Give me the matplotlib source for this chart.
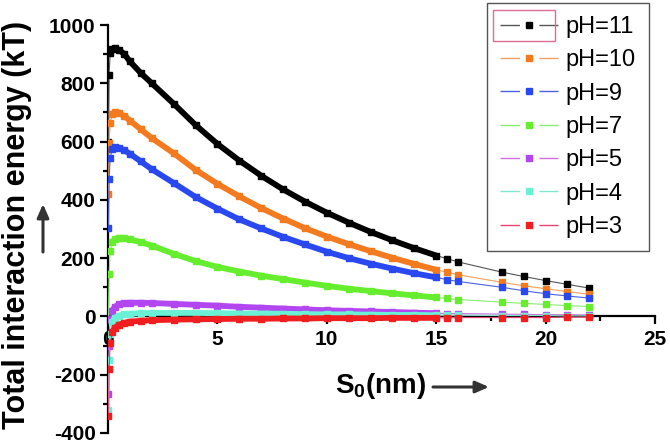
import matplotlib
matplotlib.use("Agg")
import matplotlib.pyplot as plt
from matplotlib.lines import Line2D
from matplotlib.patches import FancyArrowPatch, Rectangle
from matplotlib.ticker import MultipleLocator

plt.rcParams['font.family'] = ['Liberation Sans', 'DejaVu Sans']
plt.rcParams['mathtext.fontset'] = 'custom'
plt.rcParams['mathtext.rm'] = 'Liberation Sans'
plt.rcParams['mathtext.bf'] = 'Liberation Sans:bold'
plt.rcParams['axes.unicode_minus'] = False
plt.rcParams['lines.scale_dashes'] = False

# separation distance (nm): densely computed part, then the sparse tail
x_dense = [0.02, 0.05, 0.1, 0.2, 0.3, 0.5, 0.75, 1, 1.5, 2, 3, 4, 5, 6, 7,
           8, 9, 10, 11, 12, 13, 14, 15]
x_tail = [15.5, 16, 18, 19, 20, 21, 22]

# total interaction energy (kT)
ph11_dense = [600, 830, 905, 918, 920, 915, 900, 875, 835, 800, 730, 657, 592,
              535, 483, 436, 394, 356, 322, 290, 261, 234, 209]
ph11_tail = [198, 187, 152, 137, 123, 110, 97]

ph10_dense = [420, 595, 665, 695, 700, 697, 688, 672, 642, 612, 560, 503, 455,
              412, 372, 336, 303, 274, 248, 224, 201, 180, 160]
ph10_tail = [152, 143, 117, 105, 95, 85, 76]

ph9_dense = [305, 470, 545, 575, 580, 578, 570, 558, 532, 505, 458, 410, 370,
             333, 302, 273, 247, 222, 200, 181, 164, 148, 134]
ph9_tail = [126, 120, 100, 88, 78, 70, 63]

ph7_dense = [-10, 145, 225, 255, 265, 270, 268, 264, 255, 243, 215, 190, 170,
             154, 140, 128, 116, 105, 95, 87, 79, 72, 65]
ph7_tail = [62, 58, 49, 45, 41, 37, 34]

ph5_dense = [-265, -100, -10, 20, 32, 42, 46, 47, 47, 46, 43, 40, 37, 33, 30,
             27, 24, 21, 19, 17, 15, 13, 11]
ph5_tail = [10, 10, 8, 7, 6, 6, 5]

ph4_dense = [-320, -150, -60, -20, -5, 3, 7, 9, 11, 12, 12, 12, 11, 10, 10, 9,
             8, 7, 7, 6, 5, 5, 4]
ph4_tail = [4, 4, 3, 3, 3, 2, 2]

ph3_dense = [-340, -180, -90, -55, -40, -28, -22, -18, -15, -13, -11, -10, -9,
             -8, -8, -7, -7, -6, -6, -6, -5, -5, -5]
ph3_tail = [-5, -4, -4, -4, -4, -3, -3]

labels = ['pH=11', 'pH=10', 'pH=9', 'pH=7', 'pH=5', 'pH=4', 'pH=3']
dense_sets = [ph11_dense, ph10_dense, ph9_dense, ph7_dense, ph5_dense, ph4_dense, ph3_dense]
tail_sets = [ph11_tail, ph10_tail, ph9_tail, ph7_tail, ph5_tail, ph4_tail, ph3_tail]
marker_colors = ['#000000', '#f47a1f', '#2a48f0', '#66ee2e', '#b246f0', '#6af0d4', '#f01e1e']
line_colors = ['#555555', '#f0a060', '#4a62e0', '#88ee70', '#d070e0', '#80e8d0', '#e84470']

fig = plt.figure(figsize=(6.7, 4.45), dpi=100)
ax = fig.add_axes([0.1612, 0.027, 0.8164, 0.9168])

for yd, yt, mc, lc in zip(dense_sets, tail_sets, marker_colors, line_colors):
    ax.plot(x_dense + x_tail, yd + yt, color=lc, lw=0.8, marker='s', ms=4,
            mfc=mc, mec=mc, zorder=3)
    # the densely sampled region looks like a thick band of markers
    ax.plot(x_dense[3:], yd[3:], color=mc, lw=4.2, solid_capstyle='butt', zorder=3)

ax.set_xlim(0, 25)
ax.set_ylim(-400, 1000)
ax.spines['top'].set_visible(False)
ax.spines['right'].set_visible(False)
ax.spines['bottom'].set_position(('data', 0))
ax.spines['left'].set_linewidth(1.6)
ax.spines['bottom'].set_linewidth(1.6)
ax.xaxis.set_major_locator(MultipleLocator(5))
ax.xaxis.set_minor_locator(MultipleLocator(2.5))
ax.yaxis.set_major_locator(MultipleLocator(200))
ax.yaxis.set_minor_locator(MultipleLocator(100))
ax.tick_params(which='major', direction='out', length=6, width=1.6)
ax.tick_params(which='minor', direction='out', length=3.5, width=1.6)
ax.tick_params(axis='x', which='major', pad=4, labelsize=15)
ax.tick_params(axis='y', which='major', pad=3, labelsize=15)
for t in ax.get_xticklabels() + ax.get_yticklabels():
    t.set_fontweight('bold')

handles = [Line2D([0], [0], color=lc, lw=1, ls=(0, (14, 14)), marker='s', ms=4,
                  mfc=mc, mec=mc) for mc, lc in zip(marker_colors, line_colors)]
leg = ax.legend(handles, labels, loc='upper right', bbox_to_anchor=(649 / 670, 1 - 3 / 445),
                bbox_transform=fig.transFigure, borderaxespad=0, fontsize=17,
                fancybox=False, edgecolor='#555555', framealpha=1, numpoints=1,
                handlelength=2.45, handletextpad=0.35, labelspacing=0.48, borderpad=0.55)
leg.get_frame().set_linewidth(1.0)

# Origin-style highlight around the first legend entry
fig.patches.append(Rectangle((493 / 670, 1 - 41 / 445), 62 / 670, 31 / 445,
                             transform=fig.transFigure, fill=False,
                             edgecolor='#dc6e96', lw=1.0, zorder=10))

fig.text(17.5 / 670, 1 - 225 / 445, 'Total interaction energy (kT)', rotation=90,
         fontsize=22, fontweight='bold', ha='center', va='center')
fig.text(381 / 670, 1 - 393 / 445, r'S$_\mathbf{0}$(nm)', fontsize=20,
         fontweight='bold', ha='center', va='baseline')

fig.add_artist(FancyArrowPatch((43 / 670, 1 - 252 / 445), (43 / 670, 1 - 204 / 445),
                               transform=fig.transFigure, arrowstyle='-|>,head_length=8,head_width=3.5',
                               lw=2.2, color='#333333', shrinkA=0, shrinkB=0))
fig.add_artist(FancyArrowPatch((433 / 670, 1 - 387 / 445), (489 / 670, 1 - 387 / 445),
                               transform=fig.transFigure, arrowstyle='-|>,head_length=8,head_width=3.5',
                               lw=2.2, color='#333333', shrinkA=0, shrinkB=0))

fig.savefig('out.png', dpi=100)
